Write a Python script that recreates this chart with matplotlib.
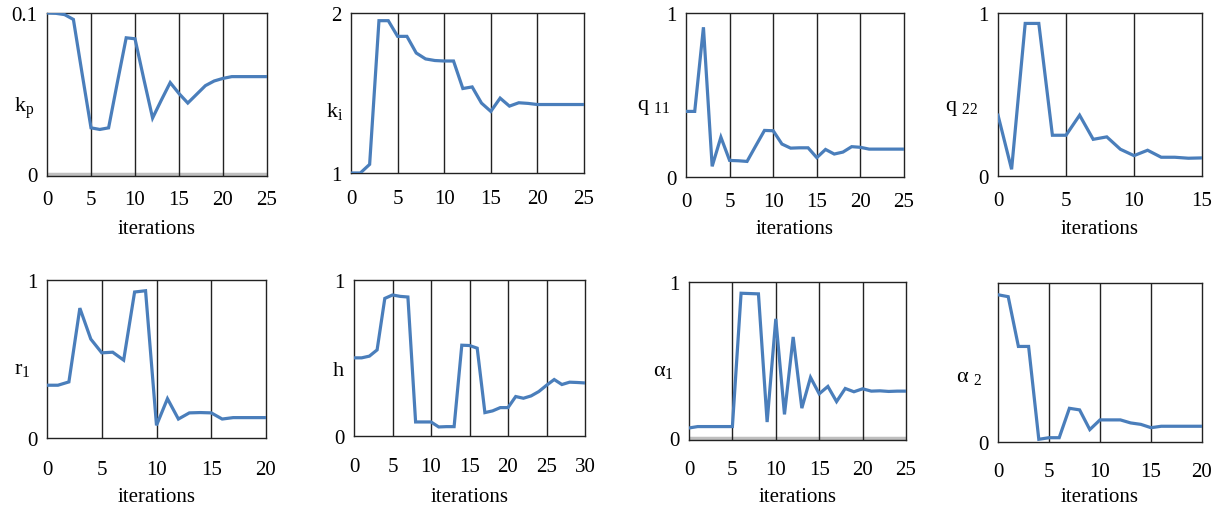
import matplotlib
matplotlib.use("Agg")
import matplotlib.pyplot as plt

plt.rcParams['font.family'] = ['Liberation Serif', 'DejaVu Serif']
plt.rcParams['mathtext.fontset'] = 'custom'
plt.rcParams['mathtext.rm'] = 'Liberation Serif'
plt.rcParams['mathtext.it'] = 'Liberation Serif'

kp = [0.100, 0.0998, 0.099, 0.096, 0.062, 0.0287, 0.0277, 0.0287, 0.057, 0.0846,
      0.084, 0.059, 0.0348, 0.046, 0.0568, 0.050, 0.0441, 0.0495, 0.0549, 0.0578,
      0.0594, 0.0605, 0.0605, 0.0605, 0.0605, 0.0605]
ki = [1.0, 1.0, 1.054, 1.952, 1.952, 1.854, 1.854, 1.75, 1.713, 1.703,
      1.70, 1.70, 1.528, 1.538, 1.437, 1.385, 1.468, 1.418, 1.439, 1.435,
      1.428, 1.428, 1.428, 1.428, 1.428, 1.428]
q11 = [0.400, 0.400, 0.913, 0.065, 0.243, 0.101, 0.099, 0.095, 0.19, 0.284,
       0.282, 0.201, 0.176, 0.178, 0.178, 0.118, 0.168, 0.140, 0.152, 0.185,
       0.181, 0.170, 0.170, 0.170, 0.170, 0.170]
q22 = [0.373, 0.041, 0.936, 0.936, 0.250, 0.250, 0.373, 0.225, 0.240, 0.164,
       0.125, 0.158, 0.115, 0.115, 0.109, 0.111]
r1 = [0.334, 0.334, 0.355, 0.822, 0.626, 0.539, 0.543, 0.493, 0.924, 0.932,
      0.080, 0.249, 0.120, 0.159, 0.161, 0.159, 0.120, 0.129, 0.129, 0.129, 0.129]
h = [0.501, 0.501, 0.512, 0.552, 0.882, 0.904, 0.895, 0.891, 0.090, 0.090,
     0.090, 0.058, 0.060, 0.060, 0.582, 0.580, 0.563, 0.150, 0.161, 0.182,
     0.182, 0.253, 0.242, 0.257, 0.285, 0.325, 0.362, 0.330, 0.345, 0.343, 0.340]
alpha1 = [0.065, 0.074, 0.074, 0.074, 0.074, 0.074, 0.928, 0.926, 0.924, 0.103,
          0.764, 0.152, 0.648, 0.192, 0.389, 0.284, 0.331, 0.234, 0.318, 0.297,
          0.316, 0.301, 0.303, 0.299, 0.301, 0.301]
alpha2 = [0.926, 0.914, 0.601, 0.601, 0.017, 0.027, 0.027, 0.212, 0.202, 0.078,
          0.139, 0.139, 0.139, 0.120, 0.111, 0.090, 0.099, 0.099, 0.099, 0.099, 0.099]

W, H = 1217, 510
fig = plt.figure(figsize=(W / 100, H / 100), dpi=100)

panels = [
    (kp, 25, (0, 0.1), [0, 0.1], ['0', '0.1'], r'k$_{\mathregular{p}}$',
     (47, 267, 14, 177), (-0.055, 0.42), 24, 53, True, True),
    (ki, 25, (1, 2), [1, 2], ['1', '2'], r'k$_{\mathregular{i}}$',
     (351, 584, 14, 174), (-0.035, 0.39), 26, 0, False, False),
    (q11, 25, (0, 1), [0, 1], ['0', '1'], r'q $_{\mathregular{11}}$',
     (686, 904, 14, 178), (-0.07, 0.43), 25, 52, True, False),
    (q22, 15, (0, 1), [0, 1], ['0', '1'], r'q $_{\mathregular{22}}$',
     (998, 1202, 14, 177), (-0.095, 0.42), 25, 53, True, False),
    (r1, 20, (0, 1), [0, 1], ['0', '1'], r'r$_{\mathregular{1}}$',
     (47, 266, 281, 439), (-0.075, 0.44), 32, 59, True, False),
    (h, 30, (0, 1), [0, 1], ['0', '1'], 'h',
     (354, 585, 281, 437), (-0.045, 0.42), 31, 61, True, False),
    (alpha1, 25, (0, 1), [0, 1], ['0', '1'], r'α$_{\mathregular{1}}$',
     (689, 906, 283, 441), (-0.07, 0.44), 30, 57, True, True),
    (alpha2, 20, (0, 1), [0], ['0'], r'α $_{\mathregular{2}}$',
     (998, 1202, 284, 443), (-0.075, 0.41), 30, 55, True, False),
]

for (data, xmax, ylim, yt, ytl, ylab, box, lpos, tpad, xoff, has_xl, gray) in panels:
    l, r, t, b = box
    ax = fig.add_axes([l / W, 1 - b / H, (r - l) / W, (b - t) / H])
    xs = list(range(len(data)))
    rng = ylim[1] - ylim[0]
    if gray:
        ax.axhline(ylim[0], color='#bfbfbf', lw=2.5, zorder=1)
        ax.set_ylim(ylim[0] - 0.012 * rng, ylim[1])
    else:
        ax.set_ylim(*ylim)
    ax.plot(xs, data, color='#4a7ebb', lw=2.3, zorder=3, solid_joinstyle='miter')
    ax.set_xlim(0, xmax)
    ax.set_xticks(list(range(0, xmax + 1, 5)))
    for gx in range(5, xmax, 5):
        ax.axvline(gx, color='#222222', lw=1.0, zorder=2)
    ax.set_yticks(yt)
    ax.set_yticklabels(ytl)
    ax.tick_params(length=0, labelsize=15)
    ax.tick_params(axis='x', pad=tpad * 0.72 - 7.5)
    ax.tick_params(axis='y', pad=7)
    for s in ax.spines.values():
        s.set_color('#222222')
        s.set_linewidth(1.0)
    ax.set_ylabel(ylab, rotation=0, fontsize=16, ha='right', va='center')
    ax.yaxis.set_label_coords(lpos[0], lpos[1])
    if has_xl:
        ax.set_xlabel('iterations', fontsize=15)
        ax.xaxis.set_label_coords(0.5, -xoff / (b - t), transform=ax.transAxes)
        ax.xaxis.label.set_va('center')

fig.savefig('out.png', dpi=100)
